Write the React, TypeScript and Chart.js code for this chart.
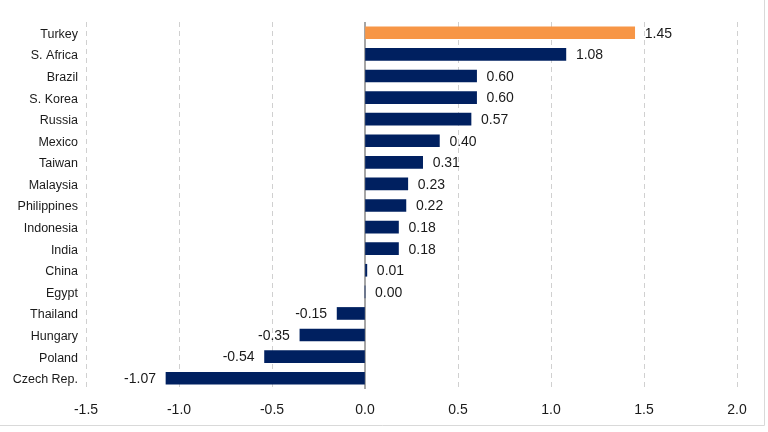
import React, { useEffect, useRef } from "react";
import { Chart, registerables } from "chart.js";

Chart.register(...registerables);

const categories = [
  "Turkey", "S. Africa", "Brazil", "S. Korea", "Russia", "Mexico", "Taiwan",
  "Malaysia", "Philippines", "Indonesia", "India", "China", "Egypt",
  "Thailand", "Hungary", "Poland", "Czech Rep.",
];
const values = [1.45, 1.08, 0.6, 0.6, 0.57, 0.4, 0.31, 0.23, 0.22, 0.18, 0.18, 0.01, 0.0, -0.15, -0.35, -0.54, -1.07];
const highlight = "Turkey";
const xTicks = [-1.5, -1.0, -0.5, 0.0, 0.5, 1.0, 1.5, 2.0];

const NAVY = "#002060";
const ORANGE = "#F79646";
const FONT = "'Liberation Sans', Arial, sans-serif";

const labelPlugin = {
  id: "valueLabels",
  afterDatasetsDraw(chart: any) {
    const ctx = chart.ctx;
    const meta = chart.getDatasetMeta(0);
    const xs = chart.scales.x;
    const zero = xs.getPixelForValue(0);
    ctx.save();
    ctx.font = `14px ${FONT}`;
    ctx.fillStyle = "#1a1a1a";
    ctx.textBaseline = "middle";
    meta.data.forEach((el: any, i: number) => {
      const v = values[i];
      const txt = v.toFixed(2);
      if (v < 0) {
        ctx.textAlign = "right";
        ctx.fillText(txt, el.x - 10, el.y + 1);
      } else {
        ctx.textAlign = "left";
        ctx.fillText(txt, Math.max(el.x, zero) + 10, el.y + 1);
      }
    });
    ctx.restore();
  },
};

const framePlugin = {
  id: "frameLines",
  beforeDatasetsDraw(chart: any) {
    const ctx = chart.ctx;
    const xs = chart.scales.x;
    const area = chart.chartArea;
    const zero = xs.getPixelForValue(0);
    ctx.save();
    ctx.strokeStyle = "#a6a6a6";
    ctx.lineWidth = 2;
    ctx.beginPath();
    ctx.moveTo(zero, area.top);
    ctx.lineTo(zero, area.bottom);
    ctx.stroke();
    ctx.restore();
  },
  afterDraw(chart: any) {
    const ctx = chart.ctx;
    ctx.save();
    ctx.strokeStyle = "#d9d9d9";
    ctx.lineWidth = 1;
    ctx.beginPath();
    ctx.moveTo(0, 425.5);
    ctx.lineTo(764.5, 425.5);
    ctx.moveTo(764.5, 0);
    ctx.lineTo(764.5, 425.5);
    ctx.stroke();
    ctx.restore();
  },
};

export default function App() {
  const ref = useRef<HTMLCanvasElement | null>(null);
  useEffect(() => {
    if (!ref.current) return;
    const chart = new Chart(ref.current, {
      type: "bar",
      data: {
        labels: categories,
        datasets: [
          {
            data: values,
            backgroundColor: categories.map((c) => (c === highlight ? ORANGE : NAVY)),
            barThickness: 12,
            borderWidth: 0,
          },
        ],
      },
      options: {
        indexAxis: "y",
        responsive: false,
        animation: false,
        layout: { padding: { left: 0, right: 31, top: 22, bottom: 0 } },
        plugins: { legend: { display: false }, tooltip: { enabled: false } },
        scales: {
          x: {
            min: -1.5,
            max: 2.0,
            afterBuildTicks: (scale: any) => {
              scale.ticks = xTicks.map((v) => ({ value: v }));
            },
            afterFit: (scale: any) => {
              scale.height = 43;
            },
            grid: {
              drawTicks: false,
              color: (c: any) => (c.tick && c.tick.value === 0 ? "rgba(0,0,0,0)" : "#d0d0d0"),
              lineWidth: 1,
            },
            border: { display: false, dash: [5, 4] },
            ticks: {
              padding: 13,
              color: "#1a1a1a",
              font: { family: FONT, size: 14 },
              callback: (v: any) => {
                const n = Number(v);
                return n.toFixed(1);
              },
            },
          },
          y: {
            afterFit: (scale: any) => {
              scale.width = 86;
            },
            grid: { display: false, drawTicks: false },
            border: { display: false },
            ticks: {
              padding: 8,
              labelOffset: 1.5,
              color: "#1a1a1a",
              font: { family: FONT, size: 12.5 },
              autoSkip: false,
            },
          },
        },
      },
      plugins: [labelPlugin, framePlugin],
    } as any);
    return () => chart.destroy();
  }, []);
  return (
    <div style={{ position: "fixed", left: 0, top: 0, width: 768, height: 432, background: "#fff" }}>
      <canvas ref={ref} width={768} height={432} style={{ width: 768, height: 432 }} />
    </div>
  );
}
